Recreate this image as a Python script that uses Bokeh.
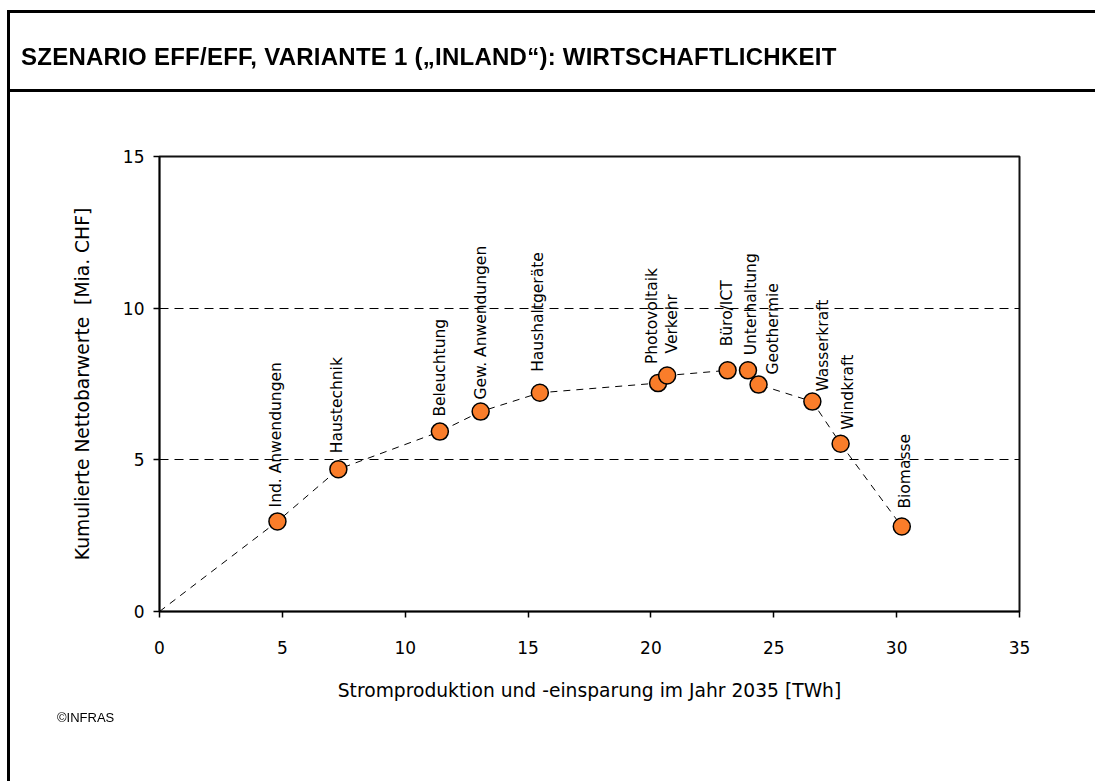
from bokeh.plotting import figure
from bokeh.models import Range1d, FixedTicker, ColumnDataSource, Div
from bokeh.layouts import column
from bokeh.core.properties import value
from bokeh.embed import file_html
from bokeh.resources import INLINE

# ---- data ----
title_text = "SZENARIO EFF/EFF, VARIANTE 1 („INLAND“): WIRTSCHAFTLICHKEIT"
source_text = "©INFRAS"
categories = ["Ind. Anwendungen", "Haustechnik", "Beleuchtung", "Gew. Anwendungen",
              "Haushaltgeräte", "Photovoltaik", "Verkehr", "Büro/ICT", "Unterhaltung",
              "Geothermie", "Wasserkraft", "Windkraft", "Biomasse"]
strom_twh = [4.80, 7.28, 11.41, 13.07, 15.48, 20.29, 20.66, 23.12, 23.95, 24.38, 26.57, 27.72, 30.21]
nettobarwert = [2.97, 4.69, 5.93, 6.59, 7.21, 7.53, 7.78, 7.95, 7.95, 7.48, 6.92, 5.53, 2.80]
x_ticks = [0, 5, 10, 15, 20, 25, 30, 35]
y_ticks = [0, 5, 10, 15]

# label placement (screen pixel offsets: dx right, dy up)
label_dx = [-1, -1, 0, 0, -2, -6, 5, -1, 3, 14, 11, 7, 3]
label_dy = [14, 16, 15, 12, 21, 19, 22, 24, 15, 10, 10, 14, 18]

W, H = 1095, 778
FL, FR, FT, FB = 159, 1019, 156, 611

p = figure(width=W, height=H, output_backend="svg", toolbar_location=None,
           x_range=Range1d(0, 35), y_range=Range1d(0, 15),
           min_border_left=FL, min_border_right=W - FR, min_border_top=FT, min_border_bottom=H - FB)
p.background_fill_color = "white"
p.border_fill_color = None
p.outline_line_color = "#111111"
p.outline_line_width = 2

p.xaxis.ticker = FixedTicker(ticks=x_ticks)
p.yaxis.ticker = FixedTicker(ticks=y_ticks)
for ax in (p.xaxis[0], p.yaxis[0]):
    ax.axis_line_color = "black"
    ax.axis_line_width = 1.5
    ax.major_tick_line_color = "black"
    ax.major_tick_line_width = 1.5
    ax.major_tick_out = 6
    ax.major_tick_in = 0
    ax.minor_tick_line_color = None
    ax.major_label_text_font = "DejaVu Sans"
    ax.major_label_text_font_size = "17px"
    ax.major_label_text_color = "black"
    ax.axis_label_text_font = "DejaVu Sans"
    ax.axis_label_text_font_size = "18.7px"
    ax.axis_label_text_font_style = "normal"
    ax.axis_label_text_color = "black"

p.xaxis.axis_label = "Stromproduktion und -einsparung im Jahr 2035 [TWh]"
p.yaxis.axis_label = "Kumulierte Nettobarwerte \u00a0[Mia. CHF]"
p.xaxis.major_label_standoff = 23
p.xaxis.axis_label_standoff = 23
p.yaxis.major_label_standoff = 9
p.yaxis.axis_label_standoff = 27

p.xgrid.grid_line_color = None
p.ygrid.grid_line_color = "black"
p.ygrid.grid_line_width = 1
p.ygrid.grid_line_dash = "9 6"

# cumulative curve from origin
line_x = [0] + strom_twh
line_y = [0] + nettobarwert
p.line(line_x, line_y, line_color="black", line_width=1, line_dash="7 6")

src = ColumnDataSource(dict(x=strom_twh, y=nettobarwert, name=categories,
                            dx=label_dx, dy=[-d for d in label_dy]))
p.scatter("x", "y", source=src, size=17, fill_color="#FA7D2A", line_color="black", line_width=1.5)
p.text("x", "y", text="name", source=src, angle=1.5707963, x_offset="dx", y_offset="dy",
       text_align="left", text_baseline="middle", text_font=value("DejaVu Sans"),
       text_font_size="15.5px", text_color="black")

# ---- page frame, title band and source note (HTML overlay) ----
deco_html = (
    '<div style="position:fixed;left:7px;top:10px;width:2000px;height:2000px;'
    'border-left:3px solid #000;border-top:3px solid #000;box-sizing:border-box;'
    'z-index:10;pointer-events:none;"></div>'
    '<div style="position:fixed;left:7px;top:89px;width:2000px;height:0;'
    'border-top:3px solid #000;z-index:10;pointer-events:none;"></div>'
    '<div style="position:fixed;left:21px;top:43px;font-family:\'Liberation Sans\',Arial,sans-serif;'
    'font-weight:bold;font-size:24px;letter-spacing:0.25px;line-height:28px;white-space:nowrap;'
    'color:#000;z-index:10;">' + title_text + '</div>'
    '<div style="position:fixed;left:57px;top:710px;font-family:\'Liberation Sans\',Arial,sans-serif;'
    'font-size:13px;line-height:15px;white-space:nowrap;color:#000;z-index:10;">'
    + source_text + '</div>'
)
deco = Div(text=deco_html, width=10, height=1)

layout = column(p, deco)
open("out.html", "w").write(file_html(layout, INLINE))
